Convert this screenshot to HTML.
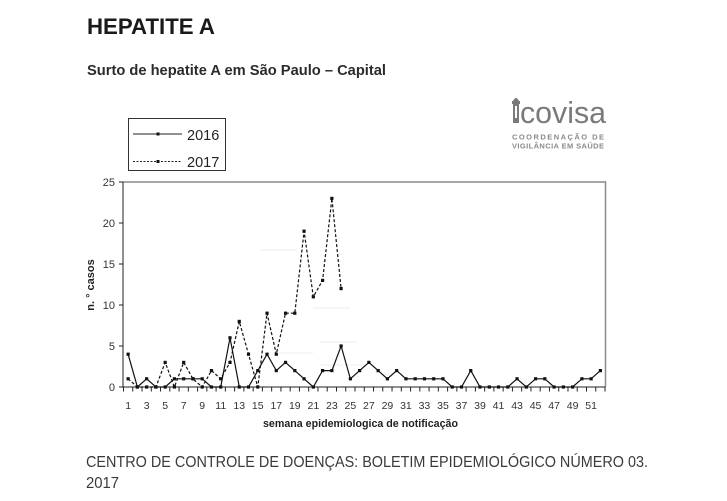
<!DOCTYPE html>
<html><head><meta charset="utf-8">
<style>
html,body{margin:0;padding:0;background:#fff;}
svg{display:block;}
text{font-family:"Liberation Sans",sans-serif;}
</style></head>
<body>
<svg width="727" height="501" viewBox="0 0 727 501" xmlns="http://www.w3.org/2000/svg">
<rect width="727" height="501" fill="#fff"/>
<text x="87" y="34" font-size="22" font-weight="bold" fill="#1a1a1a" textLength="128" lengthAdjust="spacingAndGlyphs">HEPATITE A</text>
<text x="87" y="75" font-size="14.5" font-weight="bold" fill="#2b2b2b" textLength="299" lengthAdjust="spacingAndGlyphs">Surto de hepatite A em São Paulo – Capital</text>

<!-- logo -->
<g fill="#7a7a7a">
<rect x="513" y="103" width="6" height="20"/>
<rect x="512" y="101" width="8" height="3"/>
<path d="M513 101 Q516 95 519 101 Z"/>
<rect x="515" y="106" width="2" height="12" fill="#fff"/>
<text x="520" y="123" font-size="31" textLength="86" lengthAdjust="spacingAndGlyphs">covisa</text>
<text x="512" y="139.5" font-size="7.5" font-weight="bold" textLength="92" lengthAdjust="spacing" fill="#8a8a8a">COORDENAÇÃO DE</text>
<text x="512" y="148.5" font-size="7.5" font-weight="bold" textLength="92" lengthAdjust="spacing" fill="#8a8a8a">VIGILÂNCIA EM SAÚDE</text>
</g>

<!-- legend -->
<rect x="128.5" y="118.5" width="97" height="52" fill="none" stroke="#333" stroke-width="1"/>
<line x1="133" y1="134" x2="182" y2="134" stroke="#222" stroke-width="1"/>
<rect x="156.5" y="132.5" width="3" height="3" fill="#111"/>
<text x="187" y="140" font-size="14.5" fill="#222">2016</text>
<line x1="133" y1="161.5" x2="182" y2="161.5" stroke="#222" stroke-width="1" stroke-dasharray="2,1.5"/>
<rect x="156.5" y="160" width="3" height="3" fill="#111"/>
<text x="187" y="167" font-size="14.5" fill="#222">2017</text>

<!-- faint artifacts -->
<g stroke="#ececec" stroke-width="1">
<line x1="260" y1="250" x2="297" y2="250"/>
<line x1="313" y1="308" x2="350" y2="308"/>
<line x1="320" y1="342" x2="357" y2="342"/>
<line x1="273" y1="353" x2="313" y2="353"/>
<line x1="320" y1="365" x2="363" y2="365"/>
</g>

<!-- plot frame -->
<line x1="123" y1="182" x2="605.5" y2="182" stroke="#8a8a8a" stroke-width="1.5"/>
<line x1="605.5" y1="181.3" x2="605.5" y2="387" stroke="#8a8a8a" stroke-width="1.5"/>
<line x1="123" y1="182" x2="123" y2="387.5" stroke="#222" stroke-width="1"/>
<line x1="123" y1="387" x2="605.5" y2="387" stroke="#222" stroke-width="1"/>

<g id="chart"></g>

<text x="263" y="427" font-size="11" font-weight="bold" fill="#222" textLength="195" lengthAdjust="spacingAndGlyphs">semana epidemiologica de notificação</text>
<text transform="translate(94,285) rotate(-90)" font-size="11" font-weight="bold" fill="#222" text-anchor="middle">n. ° casos</text>

<text x="86" y="467" font-size="16" fill="#3a3a3a" textLength="562" lengthAdjust="spacingAndGlyphs">CENTRO DE CONTROLE DE DOENÇAS: BOLETIM EPIDEMIOLÓGICO NÚMERO 03.</text>
<text x="86" y="488" font-size="16" fill="#3a3a3a" textLength="33" lengthAdjust="spacingAndGlyphs">2017</text>

<script>
(function(){
var ns="http://www.w3.org/2000/svg";
var g=document.getElementById("chart");
var x0=123.5,w=9.26;
function X(i){return x0+(i-0.5)*w;}
function Y(v){return 387-v*8.2;}
function el(t,a){var e=document.createElementNS(ns,t);for(var k in a)e.setAttribute(k,a[k]);g.appendChild(e);return e;}
// y ticks & labels
for(var v=0;v<=25;v+=5){
 el("line",{x1:119,y1:Y(v),x2:123,y2:Y(v),stroke:"#222","stroke-width":1});
 var t=el("text",{x:115,y:Y(v)+4,"font-size":11,fill:"#333","text-anchor":"end"});t.textContent=v;
}
// x ticks
for(var k=0;k<=52;k++){
 var xx=x0+k*w;
 el("line",{x1:xx,y1:387,x2:xx,y2:391.5,stroke:"#222","stroke-width":1});
}
for(var i=1;i<=51;i+=2){
 var t=el("text",{x:X(i),y:409,"font-size":10.5,fill:"#333","text-anchor":"middle"});t.textContent=i;
}
var d16=[4,0,1,0,0,1,1,1,1,0,0,6,0,0,2,4,2,3,2,1,0,2,2,5,1,2,3,2,1,2,1,1,1,1,1,0,0,2,0,0,0,0,1,0,1,1,0,0,0,1,1,2];
var d17=[1,0,0,0,3,0,3,1,0,2,1,3,8,4,0,9,4,9,9,19,11,13,23,12];
function series(d,dash){
 var p=d.map(function(v,i){return X(i+1).toFixed(1)+","+Y(v).toFixed(1);}).join(" ");
 var a={points:p,fill:"none",stroke:"#111","stroke-width":1.2,"stroke-linejoin":"miter"};
 if(dash)a["stroke-dasharray"]="3,2";
 el("polyline",a);
 d.forEach(function(v,i){el("rect",{x:X(i+1)-1.6,y:Y(v)-1.6,width:3.2,height:3.2,fill:"#111"});});
}
series(d17,true);
series(d16,false);
})();
</script>
</svg>
</body></html>
